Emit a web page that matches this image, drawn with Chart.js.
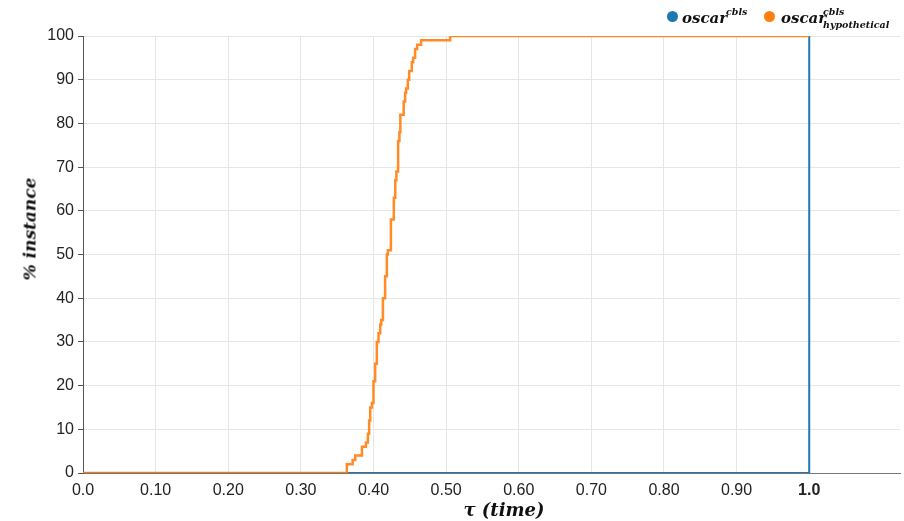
<!DOCTYPE html>
<html>
<head>
<meta charset="utf-8">
<script src="https://cdn.jsdelivr.net/npm/chart.js@4/dist/chart.umd.min.js"></script>
<style>
  body { margin: 0; background: #fff; }
  #wrap { position: relative; width: 904px; height: 521px; }
  .math { position: absolute; font-family: "DejaVu Serif", serif; font-style: italic; font-weight: bold; color: #111; white-space: nowrap; line-height: 1; }
  .legend-item { position: absolute; top: 11px; font-size: 15px; }
  .dot { position: absolute; width: 11px; height: 11px; border-radius: 50%; top: 11px; }
  .script { position: absolute; font-size: 9.5px; }
</style>
</head>
<body>
<div id="wrap">
  <canvas id="cdf-graph" width="904" height="521"></canvas>
  <span class="dot" style="left:667px;background:#1f77b4"></span>
  <div class="math legend-item" style="left:682px">oscar<span class="script" style="left:44px;top:-4px">cbls</span></div>
  <span class="dot" style="left:764px;background:#ff7f0e"></span>
  <div class="math legend-item" style="left:781px">oscar<span class="script" style="left:42px;top:-4px">cbls</span><span class="script" style="left:42px;top:9px">hypothetical</span></div>
  <div class="math" id="y-title" style="left:30px;top:229px;font-size:17px;transform:translate(-50%,-50%) rotate(-90deg)">% instance</div>
  <div class="math" id="x-title" style="left:504px;top:510px;font-size:18px;transform:translate(-50%,-50%)">τ (time)</div>
</div>
<script>
const cdfGraph = document.querySelector("#cdf-graph");

// tau ticks and their labels
const tauTicks = [0, 0.1, 0.2, 0.3, 0.4, 0.5, 0.6, 0.7, 0.8, 0.9, 1.0];
const tauLabels = ["0.0", "0.10", "0.20", "0.30", "0.40", "0.50", "0.60", "0.70", "0.80", "0.90", "1.0"];

// oscar cbls
const oscarTau = [0, 1.0, 1.0];
const oscarPct = [0, 0, 100];

// oscar cbls hypothetical (step cdf)
const hypoTau = [0, 0.3633, 0.3713, 0.3749, 0.3841, 0.3896, 0.3923, 0.3940, 0.3955, 0.3978, 0.4000, 0.4023,
  0.4046, 0.4069, 0.4093, 0.4107, 0.4130, 0.4160, 0.4184, 0.4198, 0.4240, 0.4280, 0.4300, 0.4315,
  0.4339, 0.4357, 0.4370, 0.4416, 0.4436, 0.4449, 0.4473, 0.4491, 0.4528, 0.4546, 0.4573, 0.4601,
  0.4656, 0.5056, 1.0];
const hypoPct = [0, 2, 3, 4, 6, 7, 9, 12, 15, 16, 21, 25,
  30, 32, 34, 35, 40, 45, 50, 51, 58, 63, 67, 69,
  76, 78, 82, 85, 87, 88, 90, 92, 94, 95, 97, 98,
  99, 100, 100];

const toPoints = (xs, ys) => xs.map((x, i) => ({ x: x, y: ys[i] }));

const cdfData = {
  datasets: [
    {
      label: "oscar cbls",
      data: toPoints(oscarTau, oscarPct),
      borderColor: "#1f77b4",
      borderWidth: 2,
      pointRadius: 0,
      order: 2,
    },
    {
      label: "oscar cbls hypothetical",
      data: toPoints(hypoTau, hypoPct),
      borderColor: "rgba(255,127,14,0.9)",
      borderWidth: 2.5,
      pointRadius: 0,
      stepped: true,
      order: 1,
    },
  ],
};

const cdfOptions = {
  responsive: false,
  animation: false,
  layout: { padding: { left: 0, top: 36, right: 4, bottom: 0 } },
  plugins: {
    legend: { display: false },
    tooltip: { enabled: false },
  },
  scales: {
    x: {
      type: "linear",
      min: 0,
      max: 1.125,
      afterBuildTicks: (scale) => {
        scale.ticks = tauTicks.map((v) => ({ value: v }));
      },
      afterFit: (scale) => { scale.height = 48; },
      grid: { color: "#e6e6e6", drawTicks: false },
      border: { color: "#777", width: 1 },
      ticks: {
        padding: 8,
        color: "#222",
        maxRotation: 0,
        autoSkip: false,
        callback: (value, index) => tauLabels[index],
        font: (ctx) => ({
          family: "Liberation Sans, Arial, sans-serif",
          size: 16,
          weight: ctx.index === 10 ? "bold" : "normal",
        }),
      },
    },
    y: {
      min: 0,
      max: 100,
      afterFit: (scale) => { scale.width = 83; },
      grid: { color: "#e6e6e6", tickColor: "#555", tickLength: 5 },
      border: { color: "#555", width: 1 },
      ticks: {
        stepSize: 10,
        padding: 4,
        color: "#222",
        font: { family: "Liberation Sans, Arial, sans-serif", size: 16 },
      },
    },
  },
};

const cdfChart = new Chart(cdfGraph, {
  type: "line",
  data: cdfData,
  options: cdfOptions,
});
</script>
</body>
</html>
